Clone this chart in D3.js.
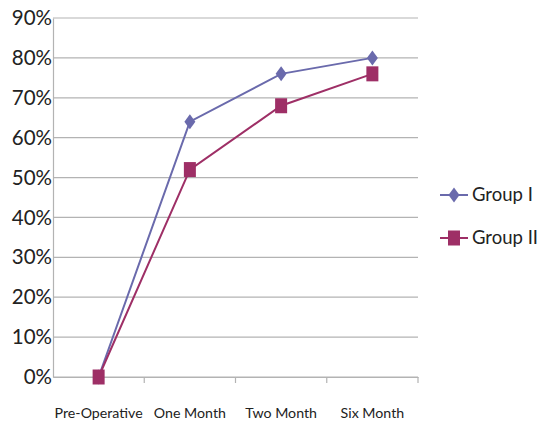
<!DOCTYPE html>
<html>
<head>
<meta charset="utf-8">
<script src="https://cdn.jsdelivr.net/npm/d3@7/dist/d3.min.js"></script>
<style>
  html, body { margin: 0; padding: 0; background: #fff; }
  svg { display: block; font-family: "Lato", "Open Sans", sans-serif; }
</style>
</head>
<body>
<svg id="chart" width="556" height="424"></svg>
<script>
// Follow-up time points
const categories = ["Pre-Operative", "One Month", "Two Month", "Six Month"];
// Percent values per group
const groupI = [0, 64, 76, 80];
const groupII = [0, 52, 68, 76];
const seriesNames = ["Group I", "Group II"];
const yTicks = [0, 10, 20, 30, 40, 50, 60, 70, 80, 90];

const series = [
  { name: seriesNames[0], values: groupI, color: "#6A6AAC", marker: "diamond" },
  { name: seriesNames[1], values: groupII, color: "#9E2F66", marker: "square" }
];

const svg = d3.select("#chart");
const margin = { left: 53, right: 138, top: 18, bottom: 47 };
const W = 556, H = 424;

const x = d3.scaleBand().domain(categories).range([margin.left, W - margin.right]);
const y = d3.scaleLinear().domain([0, 90]).range([H - margin.bottom, margin.top]);

// Horizontal gridlines
svg.append("g")
  .selectAll("line")
  .data(yTicks)
  .join("line")
  .attr("x1", margin.left).attr("x2", W - margin.right)
  .attr("y1", d => y(d)).attr("y2", d => y(d))
  .attr("stroke", "#b3b3b3").attr("stroke-width", 1.2);

// Y axis
const yAxis = svg.append("g")
  .attr("transform", `translate(${margin.left},0)`)
  .call(d3.axisLeft(y).tickValues(yTicks).tickFormat(d => d + "%").tickSize(0).tickPadding(1));
yAxis.select(".domain").attr("stroke", "#b3b3b3").attr("stroke-width", 1.2);
yAxis.selectAll("text").attr("font-size", 20.5).attr("fill", "#222").attr("font-family", "Lato, sans-serif");

// X axis with tick marks at category boundaries
const xAxis = svg.append("g")
  .attr("transform", `translate(0,${y(0)})`)
  .call(d3.axisBottom(x).tickSize(0).tickPadding(31));
xAxis.select(".domain").attr("stroke", "#b3b3b3").attr("stroke-width", 1.2);
xAxis.selectAll("text").attr("font-size", 14.2).attr("fill", "#222").attr("font-family", "Lato, sans-serif");
svg.append("g")
  .selectAll("line")
  .data(categories)
  .join("line")
  .attr("x1", d => x(d) + x.bandwidth()).attr("x2", d => x(d) + x.bandwidth())
  .attr("y1", y(0)).attr("y2", y(0) + 6)
  .attr("stroke", "#b3b3b3").attr("stroke-width", 1.2);

const cx = c => x(c) + x.bandwidth() / 2;

function drawMarker(g, type, color) {
  if (type === "diamond") {
    g.append("path").attr("d", "M0,-7.5L5.5,0L0,7.5L-5.5,0Z").attr("fill", color);
  } else {
    g.append("rect").attr("x", -6).attr("y", -7.5).attr("width", 12).attr("height", 15).attr("fill", color);
  }
}

const line = d3.line().x((d, i) => cx(categories[i])).y(d => y(d));

series.forEach(s => {
  svg.append("path")
    .datum(s.values)
    .attr("d", line)
    .attr("fill", "none")
    .attr("stroke", s.color)
    .attr("stroke-width", 2);
  s.values.forEach((v, i) => {
    const g = svg.append("g").attr("transform", `translate(${cx(categories[i])},${y(v)})`);
    drawMarker(g, s.marker, s.color);
  });
});

// Legend
const legend = svg.append("g");
series.forEach((s, i) => {
  const ly = 195 + i * 43;
  const g = legend.append("g").attr("transform", `translate(440,${ly})`);
  g.append("line").attr("x1", 0).attr("x2", 28).attr("y1", 0).attr("y2", 0)
    .attr("stroke", s.color).attr("stroke-width", 2);
  const m = g.append("g").attr("transform", "translate(14,0)");
  drawMarker(m, s.marker, s.color);
  g.append("text").attr("x", 32).attr("y", 0).attr("dy", "0.35em")
    .attr("font-size", 18.5).attr("fill", "#222").text(s.name);
});
</script>
</body>
</html>
